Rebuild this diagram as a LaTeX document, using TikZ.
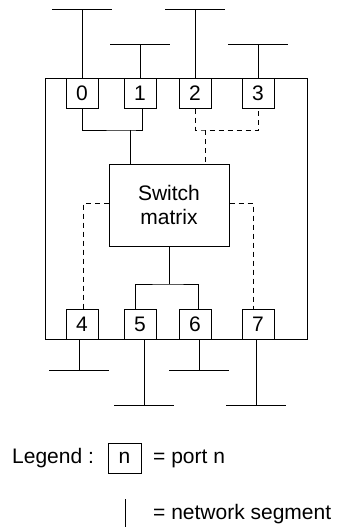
\documentclass[tikz,border=0pt]{standalone}
\usepackage{fontspec}
\setmainfont{Liberation Sans}
\usetikzlibrary{positioning}

\begin{document}
\begin{tikzpicture}[
    x=1pt, y=-1pt,
    port/.style={draw, line width=1pt, minimum width=32pt, minimum height=30pt, inner sep=0pt, font=\fontsize{21}{24}\selectfont},
    switchbox/.style={draw, line width=1pt, minimum width=120pt, minimum height=82pt, align=center, font=\fontsize{21}{24}\selectfont},
    note/.style={font=\fontsize{21}{24}\selectfont, anchor=base west, inner sep=0pt},
    link/.style={line width=1pt},
    backup/.style={line width=1pt, dash pattern=on 5pt off 4pt}]

    \useasboundingbox (0, 0) rectangle (338, 527);

    % ----- the switch housing, ports sit on its top and bottom edges
    \draw[link] (45, 78) rectangle (307, 339);
    \foreach \i/\x in {0/82, 1/140, 2/195, 3/258} {
        \node[port] (p\i) at (\x, 93) {\i};
    }
    \foreach \i/\x in {4/82, 5/140, 6/195, 7/258} {
        \node[port] (p\i) at (\x, 324.5) {\i};
    }
    \node[switchbox] (sw) at (169, 205) {Switch\\matrix};

    % ----- network segments hanging off each port
    \foreach \i/\x/\y in {0/82/10, 1/140/45, 2/195/10, 3/258/45} {
        \coordinate (s\i) at (\x, \y);
        \draw[link] ([xshift=-30pt]s\i) -- ([xshift=30pt]s\i);
        \draw[link] (p\i.north -| s\i) -- (s\i);
    }
    \foreach \i/\x/\y in {4/79/370, 5/144/405, 6/199/370, 7/256/405} {
        \coordinate (s\i) at (\x, \y);
        \draw[link] ([xshift=-30pt]s\i) -- ([xshift=30pt]s\i);
        \draw[link] (p\i.south -| s\i) -- (s\i);
    }

    % ----- paths through the switch matrix
    \coordinate (j01) at (130, 130);
    \coordinate (j23) at (205, 130);
    \coordinate (j56) at (169, 284);
    \draw[link] (p0.south) |- (j01) -| ([xshift=2pt]p1.south);
    \draw[link] (j01) -- (j01 |- sw.north);
    \draw[backup] (p2.south) |- (j23) -| (p3.south);
    \draw[backup] (j23) -- (j23 |- sw.north);
    \draw[backup] ([yshift=2pt]sw.west) -| ([xshift=1pt]p4.north);
    \draw[backup] ([yshift=2pt]sw.east) -| ([xshift=-5pt]p7.north);
    \draw[link] (sw.south) -- (j56);
    \draw[link] ([xshift=-5pt]p5.north) |- (j56) -| ([xshift=3pt]p6.north);

    % ----- legend
    \node[note] (lg) at (12, 463) {Legend :};
    \node[port, minimum width=33pt] (lgport) at (124.5, 458) {n};
    \node[note] (lgportnote) at (153, 463) {= port n};
    \coordinate (lgtop) at (125, 499);
    \coordinate (lgbot) at (125, 527);
    \draw[link] (lgtop) -- (lgbot);
    \node[note] (lgsegnote) at (153, 519) {= network segment};
\end{tikzpicture}
\end{document}
